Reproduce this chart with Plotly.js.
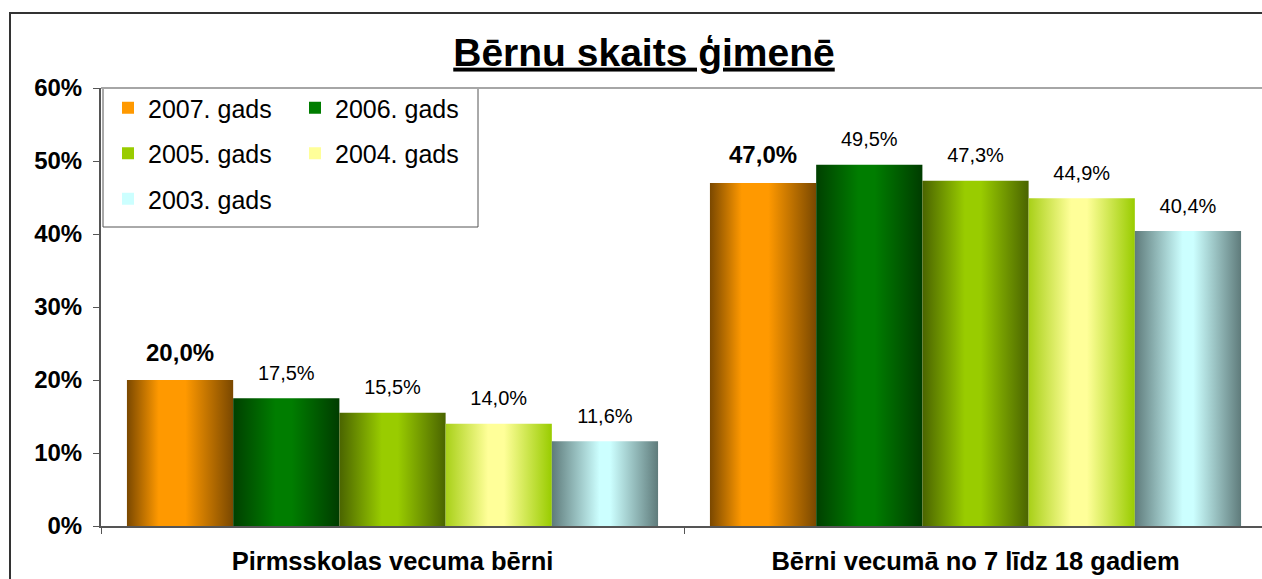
<!DOCTYPE html>
<html><head><meta charset="utf-8">
<script src="https://cdn.plot.ly/plotly-3.0.1.min.js"></script>
<style>
html,body{margin:0;padding:0;background:#fff;overflow:hidden;width:1262px;height:579px;}
#chart{width:1262px;height:579px;position:absolute;left:0;top:0;}
#frame{position:absolute;left:9px;top:12px;width:1400px;height:700px;border-left:2px solid #333;border-top:2px solid #333;pointer-events:none;z-index:5;}
</style>
</head><body>
<svg width="0" height="0" style="position:absolute;left:0;top:0" id="gradsvg"><defs id="graddefs"></defs></svg>
<div id="chart"></div>
<div id="frame"></div>
<script>
// ---- data ----
const categories = ['Pirmsskolas vecuma bērni', 'Bērni vecumā no 7 līdz 18 gadiem'];
const seriesNames = ['2007. gads', '2006. gads', '2005. gads', '2004. gads', '2003. gads'];
const v2007 = [0.200, 0.470];
const v2006 = [0.175, 0.495];
const v2005 = [0.155, 0.473];
const v2004 = [0.140, 0.449];
const v2003 = [0.116, 0.404];
const yTickVals = [0, 0.1, 0.2, 0.3, 0.4, 0.5, 0.6];
const yTickText = ['0%', '10%', '20%', '30%', '40%', '50%', '60%'];
const chartTitle = 'Bērnu skaits ģimenē';

// ---- styles ----
const seriesValues = [v2007, v2006, v2005, v2004, v2003];
const F = 'Liberation Sans, Arial, sans-serif';
const gradStops = [
  [['0', '#7a4800'], ['0.3', '#ff9900'], ['0.55', '#ff9900'], ['1', '#7a4800']],
  [['0', '#004000'], ['0.4', '#007d00'], ['0.55', '#007d00'], ['1', '#003c00']],
  [['0', '#4a6400'], ['0.4', '#99cc00'], ['0.55', '#99cc00'], ['1', '#4a6400']],
  [['0', '#a8d018'], ['0.4', '#ffff99'], ['0.55', '#ffff99'], ['1', '#99cc00']],
  [['0', '#5f7b7b'], ['0.45', '#ccffff'], ['0.55', '#ccffff'], ['1', '#5f7b7b']]
];
const baseColors = ['#ff9900', '#007d00', '#99cc00', '#ffff99', '#ccffff'];
const legendOf = ['legend', 'legend2', 'legend', 'legend2', 'legend'];

const defs = document.getElementById('graddefs');
gradStops.forEach((stops, i) => {
  const g = document.createElementNS('http://www.w3.org/2000/svg', 'linearGradient');
  g.setAttribute('id', 'bargrad' + i);
  g.setAttribute('x1', '0'); g.setAttribute('y1', '0'); g.setAttribute('x2', '1'); g.setAttribute('y2', '0');
  stops.forEach(s => {
    const st = document.createElementNS('http://www.w3.org/2000/svg', 'stop');
    st.setAttribute('offset', s[0]); st.setAttribute('stop-color', s[1]);
    g.appendChild(st);
  });
  defs.appendChild(g);
});

const fmt = v => (v * 100).toFixed(1).replace('.', ',') + '%';

const traces = [];
seriesValues.forEach((vals, i) => {
  traces.push({
    type: 'bar', name: seriesNames[i], x: categories, y: vals,
    offsetgroup: 'g' + i, legend: legendOf[i], legendgroup: 'lg' + i,
    marker: {color: baseColors[i], line: {width: 0}},
    hoverinfo: 'skip'
  });
});
seriesValues.forEach((vals, i) => {
  traces.push({
    type: 'scatter', mode: 'markers+text', x: categories, y: vals,
    offsetgroup: 'g' + i, showlegend: false, cliponaxis: false,
    marker: {size: 20, opacity: 0},
    text: vals.map(fmt), textposition: 'top center',
    textfont: i === 0 ? {family: F, size: 24, color: '#000', weight: 'bold'} : {family: F, size: 20, color: '#000'},
    hoverinfo: 'skip'
  });
});

const P = {l: 101, r: 1262, t: 88, b: 526};
const pw = P.r - P.l, ph = P.b - P.t;
const px = x => (x - P.l) / pw;
const py = y => (P.b - y) / ph;

const legendCommon = {
  xref: 'container', yref: 'container', xanchor: 'left', yanchor: 'top',
  bgcolor: 'rgba(0,0,0,0)', borderwidth: 0, font: {family: F, size: 25, color: '#000'},
  tracegroupgap: 10, orientation: 'v', itemclick: false, itemdoubleclick: false
};

const layout = {
  width: 1262, height: 579,
  margin: {l: P.l, r: 0, t: P.t, b: 579 - P.b, pad: 0, autoexpand: false},
  paper_bgcolor: '#fff', plot_bgcolor: '#fff',
  barmode: 'group', bargap: 0.089, bargroupgap: 0,
  scattermode: 'group', scattergap: 0.089,
  title: {
    text: chartTitle, xref: 'container', yref: 'container',
    x: 644 / 1262, xanchor: 'center', y: 1 - 52 / 579, yanchor: 'middle',
    font: {family: F, size: 39, color: '#000', weight: 'bold', lineposition: 'under'}
  },
  xaxis: {
    type: 'category', range: [-0.5, -0.5 + 1161 / 583], tickson: 'boundaries',
    ticks: 'outside', ticklen: 6, tickcolor: '#555', tickwidth: 1,
    showline: true, linecolor: '#555', linewidth: 1.5, showgrid: false, zeroline: false,
    tickfont: {family: F, size: 25.5, color: '#000', weight: 'bold'}, ticklabelstandoff: 12,
    fixedrange: true
  },
  yaxis: {
    range: [0, 0.6], tickvals: yTickVals, ticktext: yTickText,
    ticks: 'outside', ticklen: 6, tickcolor: '#555', tickwidth: 1,
    showline: true, linecolor: '#555', linewidth: 2, showgrid: false, zeroline: false,
    tickfont: {family: F, size: 24, color: '#000', weight: 'bold'}, ticklabelstandoff: 6,
    fixedrange: true
  },
  legend: Object.assign({x: 108 / 1262, y: 1 - 85 / 579}, legendCommon),
  legend2: Object.assign({x: 295 / 1262, y: 1 - 85 / 579}, legendCommon),
  shapes: [
    {type: 'rect', xref: 'paper', yref: 'paper', x0: px(103), x1: px(478), y0: py(227), y1: py(88),
     line: {color: '#555', width: 1}, fillcolor: '#fff', layer: 'below'},
    {type: 'line', xref: 'paper', yref: 'paper', x0: 0, x1: 1, y0: 1, y1: 1,
     line: {color: '#a6a6a6', width: 2}, layer: 'above'}
  ],
  showlegend: true
};

const gd = document.getElementById('chart');
function applyGradients() {
  gd.querySelectorAll('.barlayer .trace.bars').forEach(t => {
    const d = t.__data__;
    const idx = d && d[0] && d[0].trace ? d[0].trace.index : null;
    if (idx === null || idx > 4) return;
    t.querySelectorAll('path').forEach(p => { p.style.fill = 'url(#bargrad' + idx + ')'; });
  });
  gd.querySelectorAll('.legend .traces').forEach(t => {
    const d = t.__data__;
    const idx = d && d[0] && d[0][0] && d[0][0].trace ? d[0][0].trace.index : null;
    if (idx === null || idx > 4) return;
    t.querySelectorAll('.legendpoints path').forEach(p => { p.style.fill = 'url(#bargrad' + idx + ')'; });
  });
}
Plotly.newPlot(gd, traces, layout, {displayModeBar: false, staticPlot: true}).then(() => {
  applyGradients();
  gd.on && gd.on('plotly_afterplot', applyGradients);
});
</script>
</body></html>
